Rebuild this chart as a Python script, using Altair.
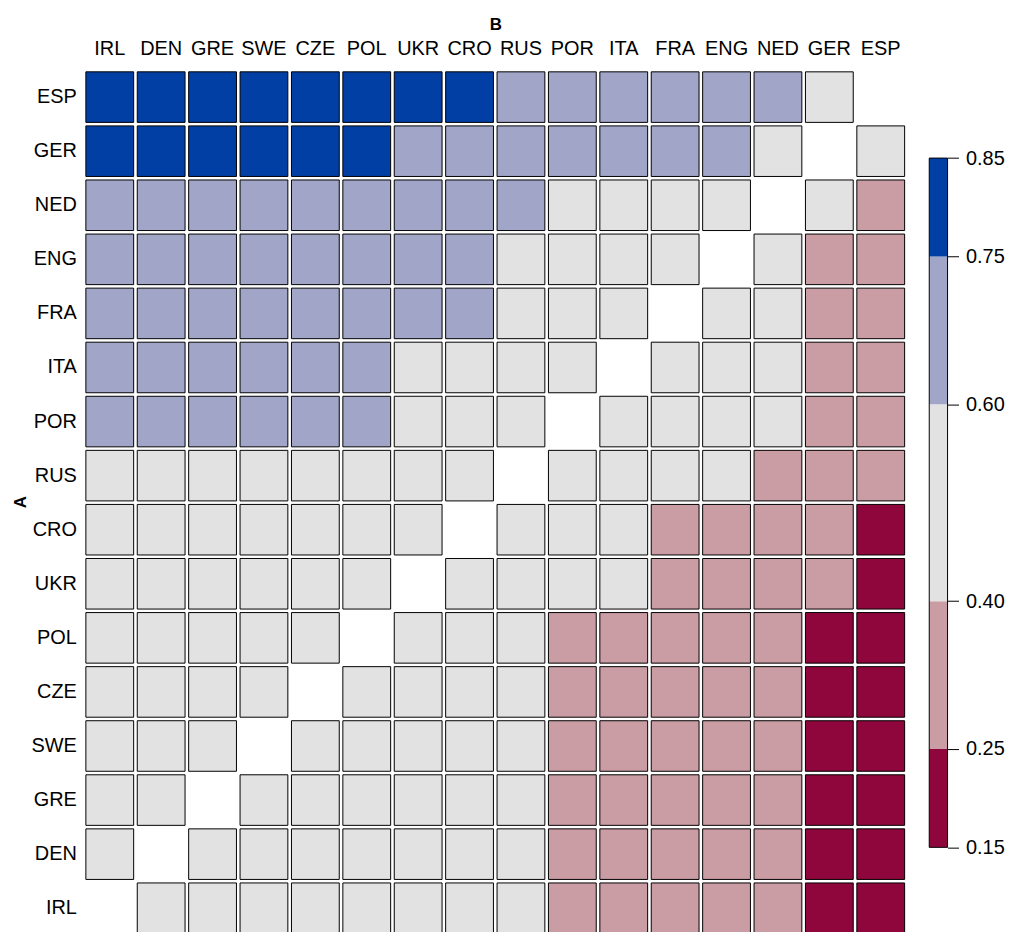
import altair as alt
import pandas as pd

# Rows (team A, top to bottom) and columns (team B, left to right)
teams_a = ["ESP", "GER", "NED", "ENG", "FRA", "ITA", "POR", "RUS",
           "CRO", "UKR", "POL", "CZE", "SWE", "GRE", "DEN", "IRL"]
teams_b = ["IRL", "DEN", "GRE", "SWE", "CZE", "POL", "UKR", "CRO",
           "RUS", "POR", "ITA", "FRA", "ENG", "NED", "GER", "ESP"]

# Probability that A beats B (read by colour band); None = diagonal (blank)
row_esp = [0.80, 0.80, 0.80, 0.80, 0.80, 0.80, 0.80, 0.80, 0.68, 0.68, 0.68, 0.68, 0.68, 0.68, 0.50, None]
row_ger = [0.80, 0.80, 0.80, 0.80, 0.80, 0.80, 0.68, 0.68, 0.68, 0.68, 0.68, 0.68, 0.68, 0.50, None, 0.50]
row_ned = [0.68, 0.68, 0.68, 0.68, 0.68, 0.68, 0.68, 0.68, 0.68, 0.50, 0.50, 0.50, 0.50, None, 0.50, 0.32]
row_eng = [0.68, 0.68, 0.68, 0.68, 0.68, 0.68, 0.68, 0.68, 0.50, 0.50, 0.50, 0.50, None, 0.50, 0.32, 0.32]
row_fra = [0.68, 0.68, 0.68, 0.68, 0.68, 0.68, 0.68, 0.68, 0.50, 0.50, 0.50, None, 0.50, 0.50, 0.32, 0.32]
row_ita = [0.68, 0.68, 0.68, 0.68, 0.68, 0.68, 0.50, 0.50, 0.50, 0.50, None, 0.50, 0.50, 0.50, 0.32, 0.32]
row_por = [0.68, 0.68, 0.68, 0.68, 0.68, 0.68, 0.50, 0.50, 0.50, None, 0.50, 0.50, 0.50, 0.50, 0.32, 0.32]
row_rus = [0.50, 0.50, 0.50, 0.50, 0.50, 0.50, 0.50, 0.50, None, 0.50, 0.50, 0.50, 0.50, 0.32, 0.32, 0.32]
row_cro = [0.50, 0.50, 0.50, 0.50, 0.50, 0.50, 0.50, None, 0.50, 0.50, 0.50, 0.32, 0.32, 0.32, 0.32, 0.20]
row_ukr = [0.50, 0.50, 0.50, 0.50, 0.50, 0.50, None, 0.50, 0.50, 0.50, 0.50, 0.32, 0.32, 0.32, 0.32, 0.20]
row_pol = [0.50, 0.50, 0.50, 0.50, 0.50, None, 0.50, 0.50, 0.50, 0.32, 0.32, 0.32, 0.32, 0.32, 0.20, 0.20]
row_cze = [0.50, 0.50, 0.50, 0.50, None, 0.50, 0.50, 0.50, 0.50, 0.32, 0.32, 0.32, 0.32, 0.32, 0.20, 0.20]
row_swe = [0.50, 0.50, 0.50, None, 0.50, 0.50, 0.50, 0.50, 0.50, 0.32, 0.32, 0.32, 0.32, 0.32, 0.20, 0.20]
row_gre = [0.50, 0.50, None, 0.50, 0.50, 0.50, 0.50, 0.50, 0.50, 0.32, 0.32, 0.32, 0.32, 0.32, 0.20, 0.20]
row_den = [0.50, None, 0.50, 0.50, 0.50, 0.50, 0.50, 0.50, 0.50, 0.32, 0.32, 0.32, 0.32, 0.32, 0.20, 0.20]
row_irl = [None, 0.50, 0.50, 0.50, 0.50, 0.50, 0.50, 0.50, 0.50, 0.32, 0.32, 0.32, 0.32, 0.32, 0.20, 0.20]

matrix = [row_esp, row_ger, row_ned, row_eng, row_fra, row_ita, row_por, row_rus,
          row_cro, row_ukr, row_pol, row_cze, row_swe, row_gre, row_den, row_irl]

# Colour key
thresholds = [0.25, 0.40, 0.60, 0.75]
colors = ["#8E063B", "#CA9CA4", "#E2E2E2", "#A1A6C8", "#023FA5"]
band_lo = [0.15, 0.25, 0.40, 0.60, 0.75]
band_hi = [0.25, 0.40, 0.60, 0.75, 0.85]
band_mid = [0.20, 0.32, 0.50, 0.68, 0.80]
key_ticks = [0.15, 0.25, 0.40, 0.60, 0.75, 0.85]

records = []
for a, vals in zip(teams_a, matrix):
    for b, v in zip(teams_b, vals):
        if v is not None:
            records.append({"A": a, "B": b, "p": v})
df = pd.DataFrame(records)

key_df = pd.DataFrame({"lo": band_lo, "hi": band_hi, "p": band_mid})
outline_df = pd.DataFrame({"lo": [band_lo[0]], "hi": [band_hi[-1]]})

W, H = 826, 869
FONT = "Liberation Sans"

color_scale = alt.Scale(type="threshold", domain=thresholds, range=colors)

heat = alt.Chart(df).mark_rect(stroke="black", strokeWidth=1).encode(
    x=alt.X("B:N", sort=teams_b,
            scale=alt.Scale(paddingInner=0.07, paddingOuter=0.035),
            axis=alt.Axis(orient="top", title="B", labelAngle=0, ticks=False, tickSize=0,
                          domain=False, labelFontSize=20, labelBaseline="alphabetic",
                          labelPadding=15.6, labelColor="black",
                          titleFontSize=17, titleFontWeight="bold", titleColor="black",
                          titleX=W / 2, titleY=-41, titleBaseline="alphabetic")),
    y=alt.Y("A:N", sort=teams_a,
            scale=alt.Scale(paddingInner=0.065, paddingOuter=0.0325),
            axis=alt.Axis(title="A", ticks=False, tickSize=0, domain=False,
                          labelFontSize=20, labelPadding=7.7, labelColor="black",
                          titleFontSize=17, titleFontWeight="bold", titleColor="black",
                          titleX=-64, titleY=H / 2 - 1, titleBaseline="middle")),
    color=alt.Color("p:Q", scale=color_scale, legend=None),
)

key_y_scale = alt.Scale(domain=[0.15, 0.85], range=[780.7, 88.4], nice=False, zero=False)
key_axis = alt.Axis(orient="right", values=key_ticks, format=".2f", title=None,
                    domain=False, grid=False, tickSize=11, tickColor="black", tickWidth=1,
                    labelFontSize=20, labelPadding=7, labelColor="black", offset=41.3,
                    labelOverlap=False)

key_bar = alt.Chart(key_df).mark_rect().encode(
    x=alt.value(848.9), x2=alt.value(867.3),
    y=alt.Y("lo:Q", scale=key_y_scale, axis=key_axis),
    y2="hi:Q",
    color=alt.Color("p:Q", scale=color_scale, legend=None),
)
key_outline = alt.Chart(outline_df).mark_rect(fillOpacity=0, stroke="black", strokeWidth=1).encode(
    x=alt.value(848.9), x2=alt.value(867.3),
    y=alt.Y("lo:Q", scale=key_y_scale, axis=key_axis),
    y2="hi:Q",
)
key = alt.layer(key_bar, key_outline)

chart = alt.layer(heat, key).resolve_scale(y="independent").properties(
    width=W, height=H,
    autosize=alt.AutoSizeParams(type="none"),
    padding={"left": 76.4, "top": 60.3, "right": 100, "bottom": 0},
).configure(font=FONT, background="white").configure_view(stroke="transparent", strokeWidth=0)

chart.save("out.html", embed_options={"renderer": "svg", "actions": False})
